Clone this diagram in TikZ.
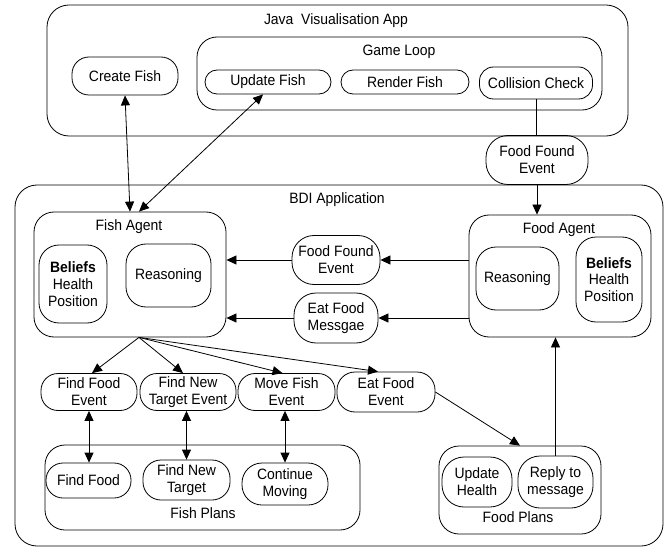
\documentclass[tikz,border=0pt]{standalone}
\usepackage{fontspec}
\setmainfont{Liberation Sans}[FakeStretch=0.93]
\usetikzlibrary{arrows.meta}
\begin{document}
\begin{tikzpicture}[x=1pt,y=-1pt,
  every node/.style={font=\fontsize{15}{16.8}\selectfont, align=center, inner sep=0pt},
  box/.style={draw, line width=0.8pt, rounded corners=#1},
  box/.default=16pt,
  conn/.style={line width=0.8pt, -{Triangle[length=10pt,width=9pt]}},
  dconn/.style={line width=0.8pt, {Triangle[length=10pt,width=9pt]}-{Triangle[length=10pt,width=9pt]}},
  plainline/.style={line width=0.8pt}
]
\useasboundingbox (0,0) rectangle (669,548);

% containers
\node[box=22pt, minimum width=581pt, minimum height=131pt] (java) at (337.5,70.5) {};
\node (javat) at (336,21) {Java\ \ Visualisation App};
\node[box=20pt, minimum width=405pt, minimum height=73pt] (loop) at (399.5,73.5) {};
\node (loopt) at (399,52) {Game Loop};

\node[box=22pt, minimum width=648pt, minimum height=361pt] (bdi) at (339,365.5) {};
\node (bdit) at (337,200) {BDI Application};

\node[box=20pt, minimum width=192pt, minimum height=125pt] (fishagent) at (130,274.5) {};
\node (fishagentt) at (129,227) {Fish Agent};
\node[box=20pt, minimum width=182pt, minimum height=122pt] (foodagent) at (560,276) {};
\node (foodagentt) at (559,230) {Food Agent};

\node[box=20pt, minimum width=315pt, minimum height=85pt] (fplans) at (202.5,487.5) {};
\node (fplanst) at (203,513) {Fish Plans};
\node[box=20pt, minimum width=162pt, minimum height=88pt] (foodplans) at (520,490) {};
\node (foodplanst) at (518,517) {Food Plans};

% Java app nodes
\node[box=17pt, minimum width=106pt, minimum height=38pt] (create) at (125,76) {Create Fish};
\node[box=12pt, minimum width=126pt, minimum height=24pt] (update) at (268,82) {Update Fish};
\node[box=12pt, minimum width=128pt, minimum height=24pt] (render) at (405,82) {Render Fish};
\node[box=14pt, minimum width=113pt, minimum height=32pt] (coll) at (536,83) {Collision Check};
\node[box=22pt, minimum width=102pt, minimum height=49pt] (ffet) at (537,160) {Food Found\\Event};

% agents' inner nodes
\node[box=20pt, minimum width=68pt, minimum height=78pt] (fbel) at (73,284) {\textbf{Beliefs}\\Health\\Position};
\node[box=20pt, minimum width=85pt, minimum height=63pt] (freas) at (168.5,275.5) {Reasoning};
\node[box=20pt, minimum width=83pt, minimum height=63pt] (dreas) at (517.5,278.5) {Reasoning};
\node[box=20pt, minimum width=66pt, minimum height=85pt] (dbel) at (609,279.5) {\textbf{Beliefs}\\Health\\Position};

\node[box=22pt, minimum width=88pt, minimum height=49pt] (ffem) at (336,260) {Food Found\\Event};
\node[box=22pt, minimum width=84pt, minimum height=50pt] (efm) at (336,318) {Eat Food\\Messgae};

% events
\node[box=17pt, minimum width=96pt, minimum height=37pt] (ffe) at (89,392) {Find Food\\Event};
\node[box=17pt, minimum width=96pt, minimum height=37pt] (nte) at (188,392) {Find New\\Target Event};
\node[box=17pt, minimum width=97pt, minimum height=37pt] (mfe) at (286.5,392) {Move Fish\\Event};
\node[box=18pt, minimum width=98pt, minimum height=40pt] (efe) at (386,392) {Eat Food\\Event};

% plans
\node[box=17pt, minimum width=85pt, minimum height=35pt] (ff) at (88.5,480.5) {Find Food};
\node[box=18pt, minimum width=87pt, minimum height=40pt] (fnt) at (186.5,480) {Find New\\Target};
\node[box=20pt, minimum width=86pt, minimum height=42pt] (cm) at (285,484) {Continue\\Moving};
\node[box=22pt, minimum width=70pt, minimum height=50pt] (uh) at (477,482) {Update\\Health};
\node[box=22pt, minimum width=75pt, minimum height=52pt] (reply) at (555.5,482) {Reply to\\message};

% connectors
\draw[dconn] (create.south) -- (fishagent.north);
\draw[dconn] ([xshift=-5pt]update.south) -- ([xshift=9pt]fishagent.north);
\draw[plainline] (coll.south) -- (coll.south |- ffet.north);
\draw[conn] (ffet.south) -- (ffet.south |- foodagent.north);

\draw[conn] (ffem.east -| foodagent.west) -- (ffem.east);
\draw[conn] (ffem.west) -- (ffem.west -| fishagent.east);
\draw[conn] (efm.east -| foodagent.west) -- (efm.east);
\draw[conn] (efm.west) -- (efm.west -| fishagent.east);

\coordinate (fan) at ([xshift=9pt]fishagent.south);
\draw[conn] (fan) -- ([xshift=3pt]ffe.north);
\draw[conn] (fan) -- ([xshift=-5pt]nte.north);
\draw[conn] (fan) -- ([xshift=-4pt]mfe.north);
\draw[conn] (fan) -- ([xshift=-8pt]efe.north);

\draw[dconn] (ffe.south) -- (ffe.south |- ff.north);
\draw[dconn] (fnt.north |- nte.south) -- (fnt.north);
\draw[dconn] (cm.north |- mfe.south) -- (cm.north);

\draw[conn] (efe.east) -- (foodplans.north);
\draw[conn] (reply.north) -- (reply.north |- foodagent.south);
\end{tikzpicture}
\end{document}
